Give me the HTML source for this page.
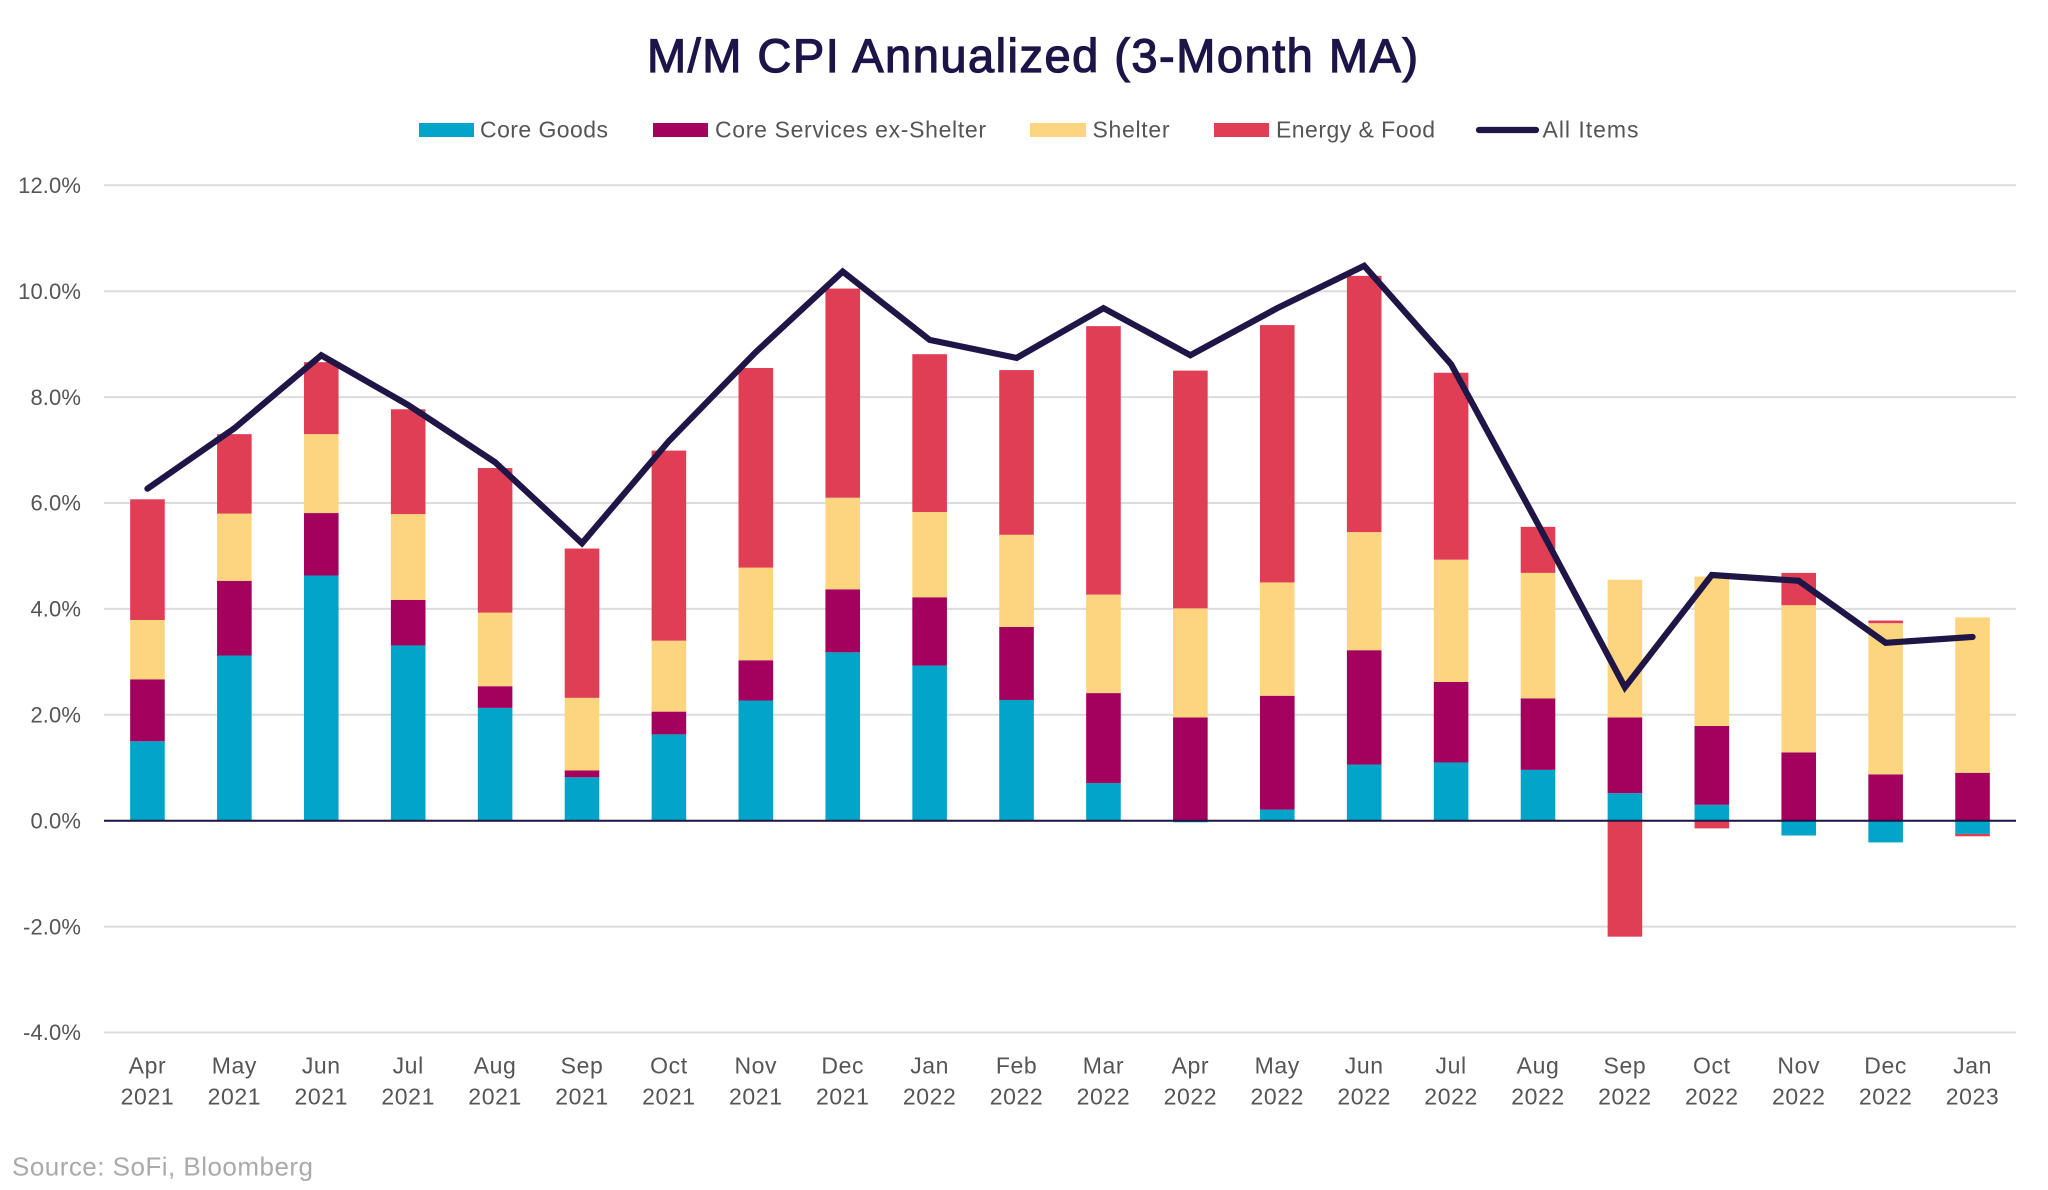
<!DOCTYPE html>
<html lang="en">
<head>
<meta charset="utf-8">
<title>M/M CPI Annualized (3-Month MA)</title>
<style>
  html, body { margin: 0; padding: 0; background: #fff; }
  #chart { display: block; width: 2048px; height: 1190px; font-family: "Liberation Sans", sans-serif; }
  .legend-text { font-size: 23px; fill: #555; }
  .y-tick { font-size: 22px; fill: #555; text-anchor: end; letter-spacing: 0.1px; }
  .x-tick { font-size: 23px; fill: #555; text-anchor: middle; letter-spacing: 0.6px; }
</style>
</head>
<body>
<svg id="chart" xmlns="http://www.w3.org/2000/svg" width="2048" height="1190" viewBox="0 0 2048 1190">
  <rect x="0" y="0" width="2048" height="1190" fill="#ffffff"/>
  <text x="647" y="72" font-size="47" fill="#1d1548" stroke="#1d1548" stroke-width="1.2" textLength="771" lengthAdjust="spacing">M/M CPI Annualized (3-Month MA)</text>

  <g>
    <g>
      <rect x="419" y="123" width="55" height="14" fill="#02a4c9"/>
      <text class="legend-text" x="480" y="137.5" textLength="128" lengthAdjust="spacing">Core Goods</text>
    </g>
    <g>
      <rect x="653" y="123" width="55" height="14" fill="#a4005e"/>
      <text class="legend-text" x="715" y="137.5" textLength="271" lengthAdjust="spacing">Core Services ex-Shelter</text>
    </g>
    <g>
      <rect x="1030" y="123" width="56" height="14" fill="#fdd57f"/>
      <text class="legend-text" x="1092.5" y="137.5" textLength="77" lengthAdjust="spacing">Shelter</text>
    </g>
    <g>
      <rect x="1214" y="123" width="55" height="14" fill="#e03e54"/>
      <text class="legend-text" x="1276" y="137.5" textLength="159" lengthAdjust="spacing">Energy &amp; Food</text>
    </g>
    <g>
      <line x1="1479" y1="130" x2="1536" y2="130" stroke="#1f1546" stroke-width="6.2" stroke-linecap="round"/>
      <text class="legend-text" x="1542.5" y="137.5" textLength="96" lengthAdjust="spacing">All Items</text>
    </g>
  </g>

  <g id="grid"></g>
  <g id="y-axis"></g>
  <g id="bars"></g>
  <line id="zero" stroke="#1f1546" stroke-width="2"/>
  <polyline id="all-items" fill="none" stroke="#1f1546" stroke-width="6.2" stroke-linejoin="miter" stroke-miterlimit="4" stroke-linecap="round"/>
  <g id="x-axis"></g>

  <text x="12" y="1175.5" font-size="26" fill="#aaaaaa" textLength="301" lengthAdjust="spacing">Source: SoFi, Bloomberg</text>
</svg>

<script>
const months = ["Apr","May","Jun","Jul","Aug","Sep","Oct","Nov","Dec","Jan","Feb","Mar","Apr","May","Jun","Jul","Aug","Sep","Oct","Nov","Dec","Jan"];
const years = ["2021","2021","2021","2021","2021","2021","2021","2021","2021","2022","2022","2022","2022","2022","2022","2022","2022","2022","2022","2022","2022","2023"];
const yTicks = [12, 10, 8, 6, 4, 2, 0, -2, -4];
const coreGoods = [1.50,3.12,4.63,3.31,2.13,0.82,1.63,2.27,3.18,2.93,2.28,0.71,-0.03,0.21,1.06,1.10,0.96,0.52,0.30,-0.28,-0.41,-0.25];
const coreServices = [1.17,1.41,1.18,0.86,0.41,0.13,0.43,0.76,1.19,1.29,1.38,1.70,1.95,2.15,2.16,1.52,1.35,1.43,1.49,1.29,0.875,0.905];
const shelter = [1.12,1.27,1.49,1.62,1.39,1.37,1.34,1.75,1.73,1.61,1.74,1.86,2.06,2.14,2.23,2.31,2.37,2.60,2.82,2.78,2.855,2.935];
const energyFood = [2.28,1.50,1.36,1.98,2.73,2.82,3.59,3.77,3.95,2.98,3.11,5.07,4.49,4.86,4.84,3.53,0.87,-2.19,-0.145,0.61,0.05,-0.045];
const allItems = [6.27,7.41,8.79,7.85,6.77,5.24,7.17,8.85,10.37,9.08,8.74,9.68,8.79,9.68,10.48,8.62,5.60,2.52,4.64,4.53,3.36,3.47];

const SVG_NS = "http://www.w3.org/2000/svg";
const plotLeft = 104, plotRight = 2016, zeroY = 820.7, unitY = 52.95, barWidth = 34.6;
const band = (plotRight - plotLeft) / months.length;
function xScale(i) { return plotLeft + band * (i + 0.5); }
function yScale(v) { return zeroY - unitY * v; }

const gridGroup = document.getElementById("grid");
const yAxisGroup = document.getElementById("y-axis");
yTicks.forEach(function (t) {
  const line = document.createElementNS(SVG_NS, "line");
  
  
  line.setAttribute("x1", plotLeft);
  line.setAttribute("x2", plotRight);
  line.setAttribute("y1", yScale(t));
  line.setAttribute("y2", yScale(t));
  line.setAttribute("stroke", "#dcdcdc");
  line.setAttribute("stroke-width", "2");
  gridGroup.appendChild(line);

  const label = document.createElementNS(SVG_NS, "text");
  
  
  label.setAttribute("class", "y-tick");
  label.setAttribute("x", 81);
  label.setAttribute("y", yScale(t) + 7.7);
  label.textContent = t.toFixed(1) + "%";
  yAxisGroup.appendChild(label);
});

const barsGroup = document.getElementById("bars");
const stackedSeries = [
  { key: "core-goods", values: coreGoods, color: "#02a4c9" },
  { key: "core-services", values: coreServices, color: "#a4005e" },
  { key: "shelter", values: shelter, color: "#fdd57f" },
  { key: "energy-food", values: energyFood, color: "#e03e54" }
];
months.forEach(function (m, i) {
  let pos = 0, neg = 0;
  stackedSeries.forEach(function (s) {
    const v = s.values[i];
    let from, to;
    if (v >= 0) { from = pos; pos += v; to = pos; }
    else { from = neg; neg += v; to = neg; }
    const rect = document.createElementNS(SVG_NS, "rect");
    
    
    rect.setAttribute("data-series", s.key);
    rect.setAttribute("x", xScale(i) - barWidth / 2);
    rect.setAttribute("width", barWidth);
    rect.setAttribute("y", Math.min(yScale(from), yScale(to)));
    rect.setAttribute("height", Math.abs(yScale(from) - yScale(to)));
    rect.setAttribute("fill", s.color);
    barsGroup.appendChild(rect);
  });
});

const zero = document.getElementById("zero");
zero.setAttribute("x1", plotLeft);
zero.setAttribute("x2", plotRight);
zero.setAttribute("y1", yScale(0));
zero.setAttribute("y2", yScale(0));

document.getElementById("all-items").setAttribute("points",
  allItems.map(function (v, i) { return xScale(i) + "," + yScale(v); }).join(" "));

const xAxisGroup = document.getElementById("x-axis");
months.forEach(function (m, i) {
  const monthLabel = document.createElementNS(SVG_NS, "text");
  
  
  monthLabel.setAttribute("class", "x-tick");
  monthLabel.setAttribute("x", xScale(i));
  monthLabel.setAttribute("y", 1073.5);
  monthLabel.textContent = m;
  xAxisGroup.appendChild(monthLabel);

  const yearLabel = document.createElementNS(SVG_NS, "text");
  
  
  yearLabel.setAttribute("class", "x-tick");
  yearLabel.setAttribute("x", xScale(i));
  yearLabel.setAttribute("y", 1104.3);
  yearLabel.textContent = years[i];
  xAxisGroup.appendChild(yearLabel);
});
</script>
</body>
</html>
